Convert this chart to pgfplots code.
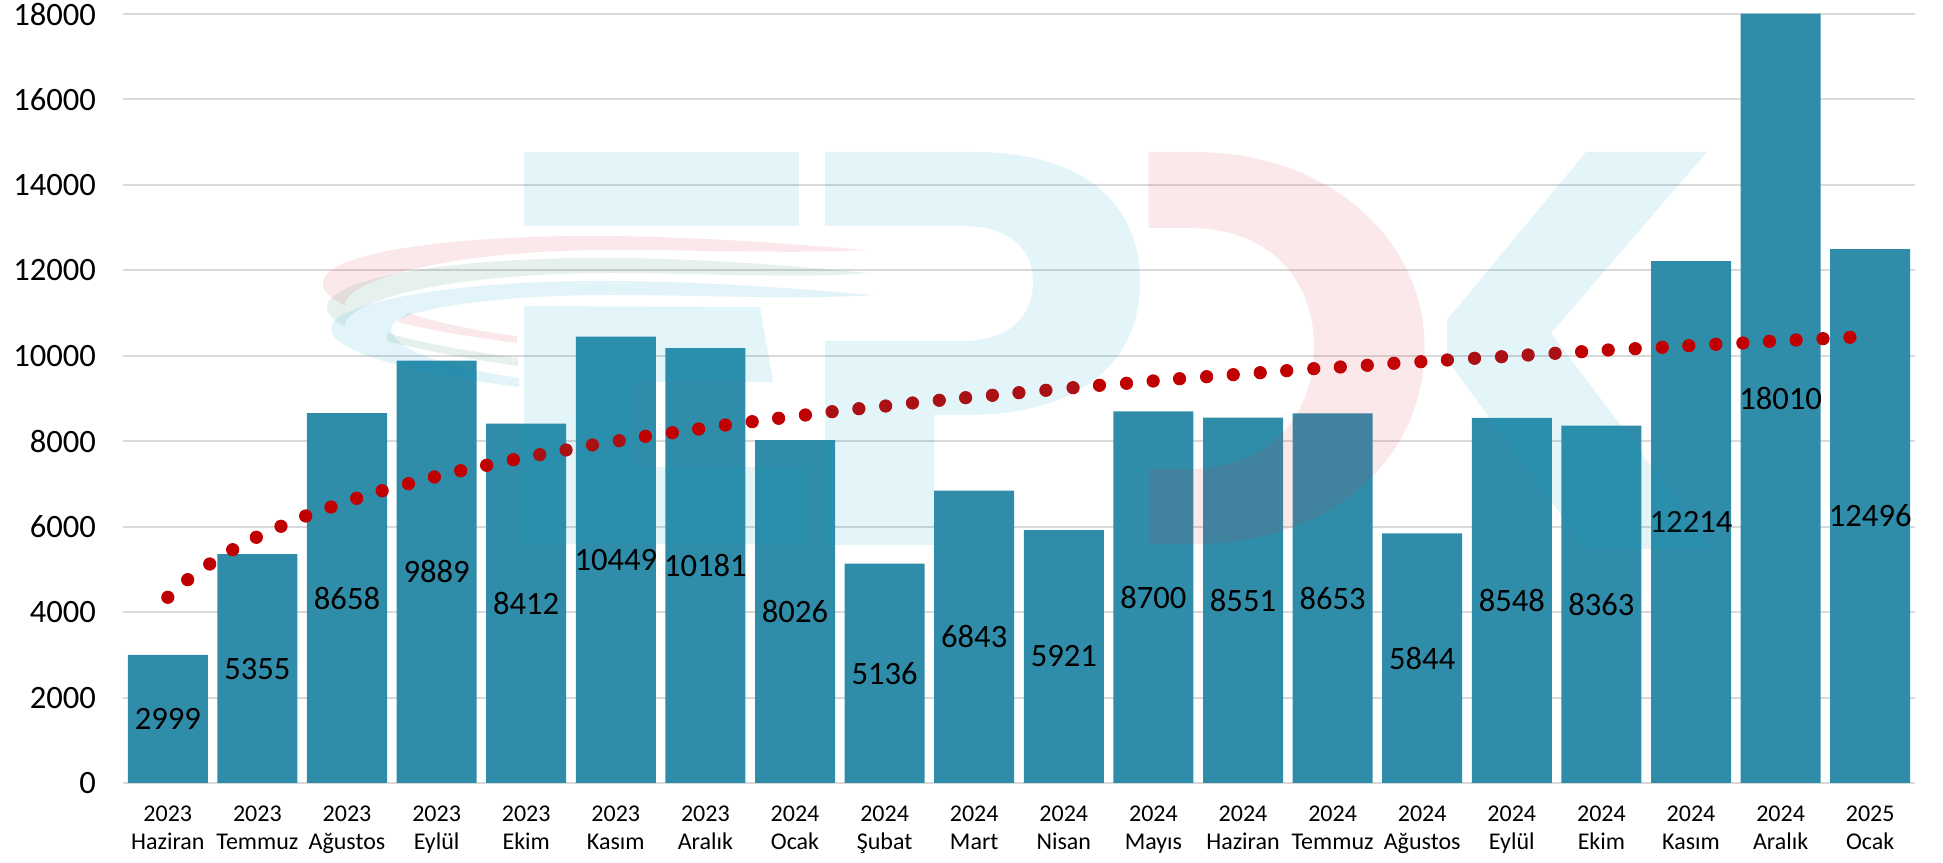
\documentclass[border=0pt]{standalone}
\usepackage{fontspec}
\setmainfont{Carlito}
\usepackage{pgfplots}
\usepackage{pgfplotstable}
\pgfplotsset{compat=1.18}
\definecolor{barblue}{RGB}{47,141,170}
\definecolor{trendred}{RGB}{192,0,0}
\definecolor{gridgray}{RGB}{217,217,217}
\definecolor{wmblue}{RGB}{0,160,190}
\definecolor{wmpink}{RGB}{220,50,70}
\definecolor{wmgreen}{RGB}{30,120,90}
\definecolor{wmsky}{RGB}{0,145,210}

\pgfplotstableread{
i v
0 2999
1 5355
2 8658
3 9889
4 8412
5 10449
6 10181
7 8026
8 5136
9 6843
10 5921
11 8700
12 8551
13 8653
14 5844
15 8548
16 8363
17 12214
18 18010
19 12496
}\monthly

\begin{document}
\begin{tikzpicture}
\path[use as bounding box] (0,0) rectangle (971.5pt,431pt);
\begin{axis}[
  at={(61.5pt,39.5pt)},anchor=south west,
  scale only axis,width=896pt,height=384.5pt,
  xmin=-0.5,xmax=19.5,ymin=0,ymax=18000,
  axis line style={draw=none},
  tick style={draw=none},
  ymajorgrids,grid style={gridgray,line width=1pt},
  ytick={0,2000,...,18000},
  scaled y ticks=false,
  xtick={0,...,19},
  xticklabels={2023\\Haziran,2023\\Temmuz,2023\\Ağustos,2023\\Eylül,2023\\Ekim,2023\\Kasım,2023\\Aralık,2024\\Ocak,2024\\Şubat,2024\\Mart,2024\\Nisan,2024\\Mayıs,2024\\Haziran,2024\\Temmuz,2024\\Ağustos,2024\\Eylül,2024\\Ekim,2024\\Kasım,2024\\Aralık,2025\\Ocak},
  xticklabel style={font=\fontsize{12}{14}\selectfont,align=center,yshift=-8pt},
  yticklabel style={font=\fontsize{16.3}{18}\selectfont,xshift=-10pt},
  /pgf/number format/.cd,fixed,precision=0,1000 sep={},assume math mode=true,
]
\addplot[ybar,bar width=0.893,fill=barblue,draw=none] table[x=i,y=v] {\monthly};
\addplot[draw=none,mark=none,
  nodes near coords,point meta=explicit,
  nodes near coords style={anchor=center,font=\fontsize{16.3}{18}\selectfont,text=black,inner sep=0pt}]
  table[x=i,y expr=\thisrow{v}/2,meta=v] {\monthly};
\addplot[only marks,color=trendred,mark=*,mark size=3.1pt,mark options={fill=trendred,draw=trendred}] coordinates {
(0.000,4347)(0.222,4759)(0.468,5126)(0.724,5461)(0.988,5751)(1.263,6009)(1.539,6250)(1.821,6460)
(2.108,6664)(2.392,6842)(2.686,7006)(2.975,7163)(3.269,7310)(3.558,7436)(3.857,7567)(4.151,7685)
(4.445,7795)(4.739,7912)(5.038,8012)(5.331,8115)(5.631,8199)(5.925,8286)(6.223,8380)(6.522,8457)
(6.817,8537)(7.116,8614)(7.414,8691)(7.713,8761)(8.012,8824)(8.311,8895)(8.610,8958)(8.904,9019)
(9.203,9075)(9.499,9136)(9.800,9192)(10.103,9253)(10.398,9309)(10.700,9356)(10.997,9410)(11.292,9463)
(11.594,9510)(11.891,9557)(12.192,9604)(12.488,9651)(12.790,9698)(13.086,9737)(13.387,9777)(13.684,9824)
(13.985,9861)(14.281,9901)(14.584,9941)(14.885,9978)(15.182,10018)(15.483,10058)(15.779,10095)(16.076,10135)
(16.377,10166)(16.679,10198)(16.975,10236)(17.277,10269)(17.579,10299)(17.875,10338)(18.173,10369)(18.473,10400)
(18.774,10433)
};
\end{axis}
% watermark, laid over the chart; coordinates are image pixels
\begin{scope}[x=0.5pt,y=-0.5pt,yshift=431pt,fill opacity=0.11]
% E
\fill[wmblue] (524,152) rectangle (799,226);
\fill[wmblue] (524,306)--(760,307)--(773,382)--(632,382)--(632,467)--(805,467)--(805,544)--(524,544)--cycle;
% P
\fill[wmblue] (825,152)--(973,152) .. controls (1080,152) and (1140,200) .. (1140,282)
  .. controls (1140,370) and (1070,415) .. (967,415)--(934,415)--(934,545)--(825,545)--(825,341)--(963,341)
  .. controls (1005,341) and (1033,320) .. (1033,282) .. controls (1033,245) and (1005,226) .. (963,226)
  --(825,226)--cycle;
% D
\fill[wmpink] (1148.5,152)--(1194,152) .. controls (1330,152) and (1424.5,240) .. (1424.5,347)
  .. controls (1424.5,460) and (1330,544) .. (1194,544)--(1148.5,544)--(1148.5,469)--(1189,469)
  .. controls (1265,469) and (1314,420) .. (1314,347) .. controls (1314,275) and (1265,228) .. (1189,228)
  --(1148.5,228)--cycle;
% K
\fill[wmblue] (1447,320)--(1586,152)--(1707,152)--(1551,333)--(1714,549)--(1586,549)--(1447,360)--cycle;
% swooshes
\fill[wmpink] (865,250) .. controls (750,240) and (650,235) .. (570,236) .. controls (430,238) and (323,255) .. (323,283)
  .. controls (323,295) and (335,300) .. (345,305) .. controls (345,280) and (450,250) .. (612,250)
  .. controls (700,250) and (800,254) .. (865,250)--cycle;
\fill[wmpink] (408,313) .. controls (445,325) and (480,331) .. (517,336)--(517,343) .. controls (470,337) and (430,330) .. (397,322)--cycle;
\fill[wmgreen] (869,273) .. controls (780,265) and (700,258) .. (600,258) .. controls (440,258) and (327,280) .. (327,307)
  .. controls (327,315) and (335,322) .. (345,326) .. controls (345,300) and (450,273) .. (612,273)
  .. controls (700,273) and (800,279) .. (869,273)--cycle;
\fill[wmgreen] (387,333) .. controls (430,345) and (475,352) .. (518,358)--(518,366) .. controls (475,360) and (430,352) .. (387,341)--cycle;
\fill[wmsky] (874,295) .. controls (790,288) and (700,281) .. (600,281) .. controls (440,281) and (331,305) .. (331,328)
  .. controls (331,350) and (400,372) .. (519,387)--(519,378) .. controls (430,365) and (391,345) .. (391,328)
  .. controls (391,312) and (480,295) .. (612,295) .. controls (700,295) and (800,300) .. (874,295)--cycle;
\end{scope}
\end{tikzpicture}
\end{document}
